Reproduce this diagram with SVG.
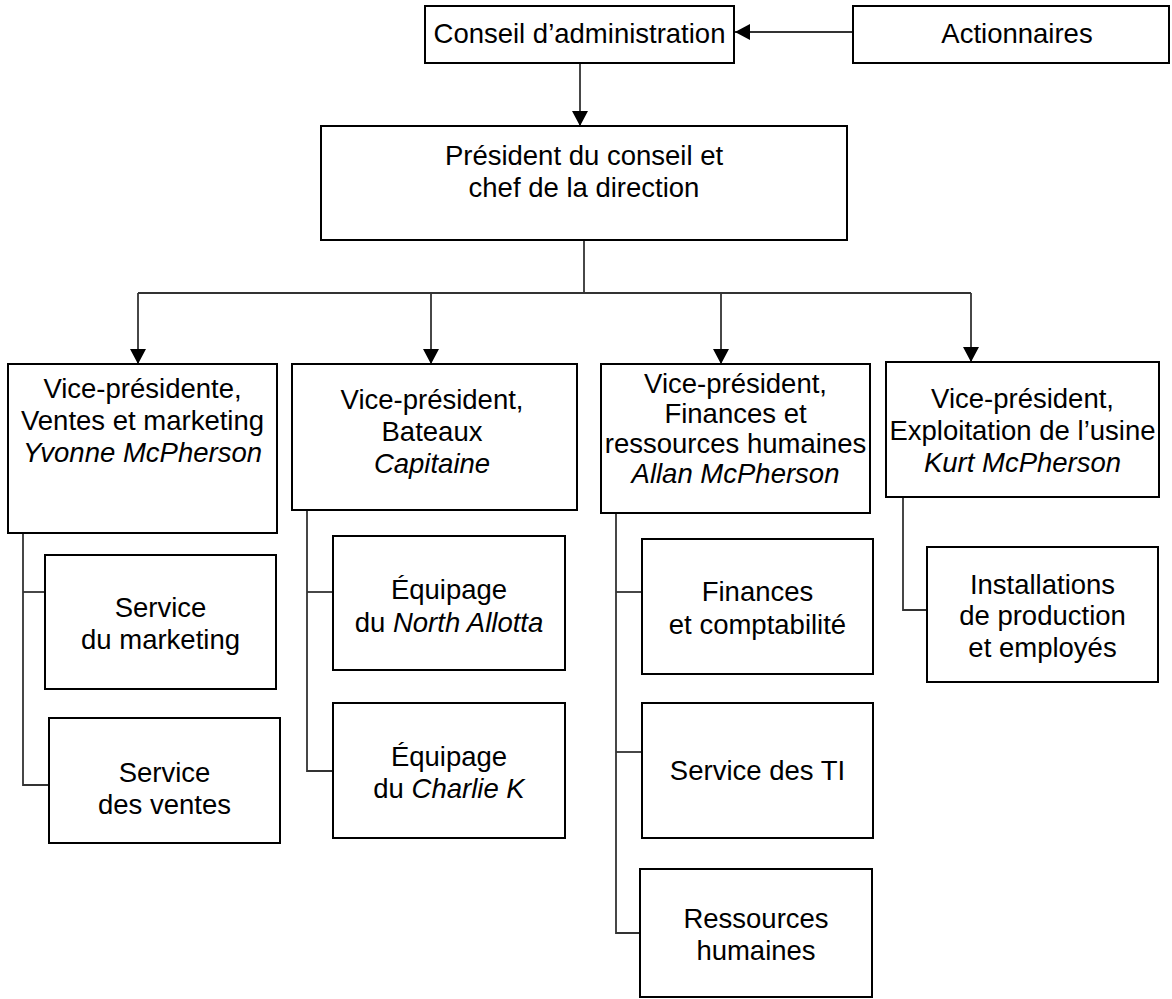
<svg xmlns="http://www.w3.org/2000/svg" width="1172" height="999" viewBox="0 0 1172 999">
<defs>
<style>
.box{fill:#fff;stroke:#000;stroke-width:2}
.ln{fill:none;stroke:#333;stroke-width:1.8}
text{font-family:"Liberation Sans",Arial,sans-serif;font-size:27.5px;fill:#000;text-anchor:middle}
.it{font-style:italic}
</style>
<marker id="ah" markerWidth="16" markerHeight="16" refX="15" refY="8" orient="auto" markerUnits="userSpaceOnUse">
<path d="M0,0 L15,8 L0,16 Z" fill="#000"/>
</marker>
</defs>
<rect width="1172" height="999" fill="#fff"/>
<g id="connectors">
<line class="ln" x1="853" y1="32" x2="735" y2="32" marker-end="url(#ah)"/>
<line class="ln" x1="580" y1="63" x2="580" y2="126" marker-end="url(#ah)"/>
<line class="ln" x1="584" y1="240" x2="584" y2="293"/>
<line class="ln" x1="138" y1="293" x2="971" y2="293"/>
<line class="ln" x1="138" y1="293" x2="138" y2="364" marker-end="url(#ah)"/>
<line class="ln" x1="431" y1="293" x2="431" y2="364" marker-end="url(#ah)"/>
<line class="ln" x1="721" y1="293" x2="721" y2="364" marker-end="url(#ah)"/>
<line class="ln" x1="971" y1="293" x2="971" y2="362" marker-end="url(#ah)"/>
<polyline class="ln" points="23,533 23,785 49,785"/>
<line class="ln" x1="23" y1="592" x2="45" y2="592"/>
<polyline class="ln" points="307,510 307,771 333,771"/>
<line class="ln" x1="307" y1="592" x2="333" y2="592"/>
<polyline class="ln" points="616,513 616,933 640,933"/>
<line class="ln" x1="616" y1="592" x2="642" y2="592"/>
<line class="ln" x1="616" y1="752" x2="642" y2="752"/>
<polyline class="ln" points="903,497 903,610 927,610"/>
</g>
<g id="conseil"><rect class="box" x="425" y="6" width="309" height="57"/><text x="579.5" y="43">Conseil d’administration</text></g>
<g id="actionnaires"><rect class="box" x="853" y="6" width="316" height="57"/><text x="1017" y="43">Actionnaires</text></g>
<g id="president"><rect class="box" x="321" y="126" width="526" height="114"/><text x="584" y="165">Président du conseil et</text><text x="584" y="197">chef de la direction</text></g>
<g id="vp-ventes"><rect class="box" x="8" y="364" width="269" height="169"/><text x="142.5" y="398">Vice-présidente,</text><text x="142.5" y="430">Ventes et marketing</text><text x="142.5" y="462" class="it">Yvonne McPherson</text></g>
<g id="vp-bateaux"><rect class="box" x="292" y="364" width="285" height="146"/><text x="432" y="409">Vice-président,</text><text x="432" y="441">Bateaux</text><text x="432" y="473" class="it">Capitaine</text></g>
<g id="vp-finances"><rect class="box" x="601" y="364" width="269" height="149"/><text x="735.5" y="393">Vice-président,</text><text x="735.5" y="423">Finances et</text><text x="735.5" y="453">ressources humaines</text><text x="735.5" y="483" class="it">Allan McPherson</text></g>
<g id="vp-usine"><rect class="box" x="886" y="362" width="273" height="135"/><text x="1022.5" y="408">Vice-président,</text><text x="1022.5" y="440">Exploitation de l’usine</text><text x="1022.5" y="472" class="it">Kurt McPherson</text></g>
<g id="marketing"><rect class="box" x="45" y="555" width="231" height="134"/><text x="160.5" y="617">Service</text><text x="160.5" y="649">du marketing</text></g>
<g id="ventes"><rect class="box" x="49" y="718" width="231" height="125"/><text x="164.5" y="782">Service</text><text x="164.5" y="814">des ventes</text></g>
<g id="north-allotta"><rect class="box" x="333" y="536" width="232" height="134"/><text x="449" y="599">Équipage</text><text x="449" y="632">du <tspan class="it">North Allotta</tspan></text></g>
<g id="charlie-k"><rect class="box" x="333" y="703" width="232" height="135"/><text x="449" y="766">Équipage</text><text x="449" y="798">du <tspan class="it">Charlie K</tspan></text></g>
<g id="finances"><rect class="box" x="642" y="539" width="231" height="135"/><text x="757.5" y="601">Finances</text><text x="757.5" y="634">et comptabilité</text></g>
<g id="ti"><rect class="box" x="642" y="703" width="231" height="135"/><text x="757.5" y="780">Service des TI</text></g>
<g id="rh"><rect class="box" x="640" y="869" width="232" height="128"/><text x="756" y="928">Ressources</text><text x="756" y="960">humaines</text></g>
<g id="installations"><rect class="box" x="927" y="547" width="231" height="135"/><text x="1042.5" y="594">Installations</text><text x="1042.5" y="625">de production</text><text x="1042.5" y="657">et employés</text></g>
</svg>
